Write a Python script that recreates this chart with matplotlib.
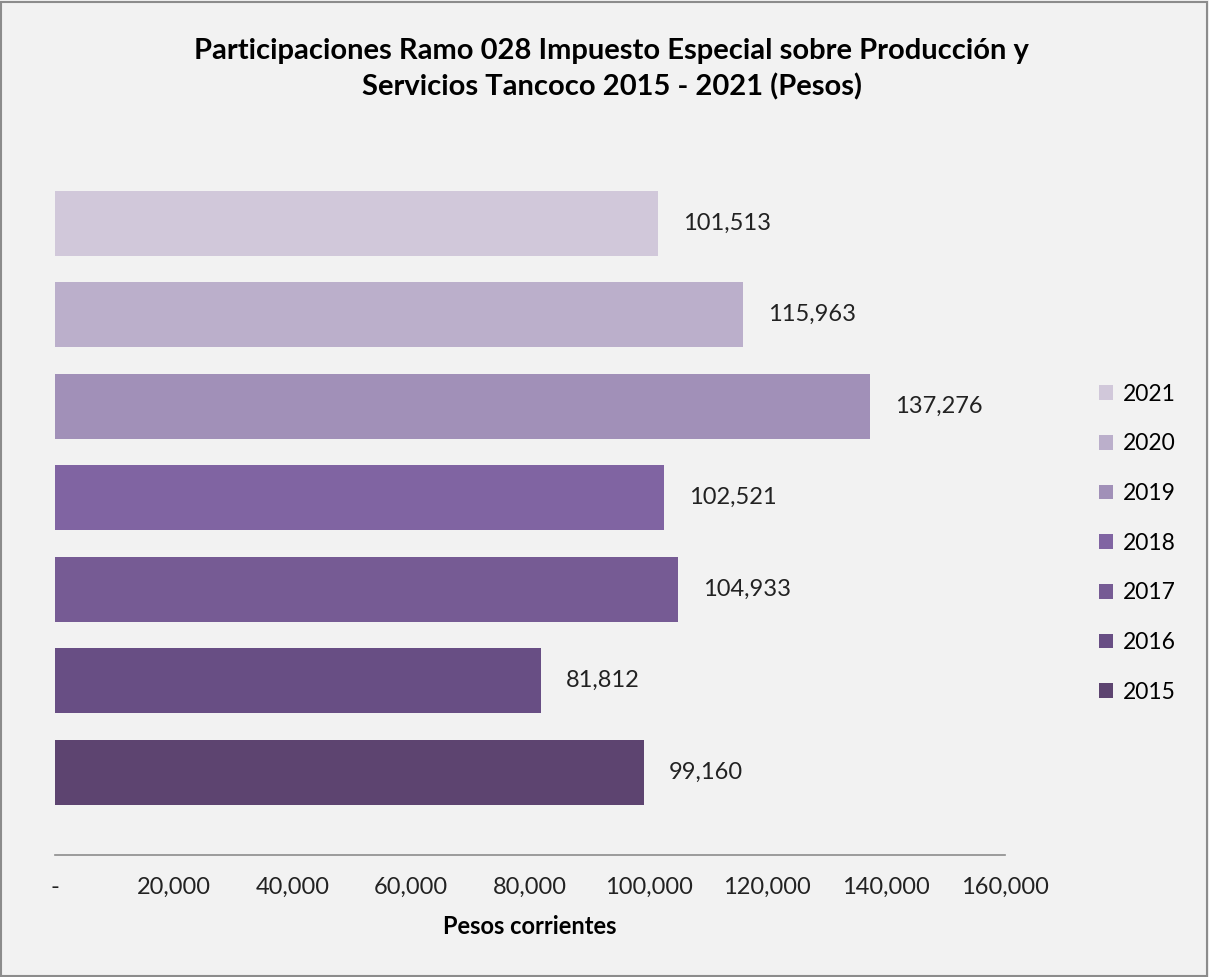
import matplotlib
matplotlib.use('Agg')
import matplotlib.pyplot as plt
from matplotlib.patches import Rectangle

years = ['2015', '2016', '2017', '2018', '2019', '2020', '2021']
values = [99160, 81812, 104933, 102521, 137276, 115963, 101513]
colors = ['#5d4470', '#684e84', '#765b94', '#8064a2', '#a190b8', '#bbafcb', '#d1c8da']
xticks = [0, 20000, 40000, 60000, 80000, 100000, 120000, 140000, 160000]
xtick_labels = ['-', '20,000', '40,000', '60,000', '80,000', '100,000', '120,000', '140,000', '160,000']

plt.rcParams['font.family'] = ['Lato', 'DejaVu Sans']

fig = plt.figure(figsize=(12.09, 9.77), dpi=100, facecolor='#f2f2f2')
ax = fig.add_axes([0.0455, 0.125, 0.7855, 0.701])
ax.set_facecolor('#f2f2f2')

bars = ax.barh(range(len(years)), values, height=0.71, color=colors)
ax.bar_label(bars, labels=[f'{v:,}' for v in values], padding=18, fontsize=17, color='#222222')

ax.set_xlim(0, 160000)
ax.set_ylim(-0.905, 6.58)
ax.set_yticks([])
ax.set_xticks(xticks)
ax.set_xticklabels(xtick_labels, fontsize=17, color='#222222')
ax.tick_params(axis='x', length=0, pad=16)
for s in ['top', 'right', 'left']:
    ax.spines[s].set_visible(False)
ax.spines['bottom'].set_color('#8c8c8c')
ax.spines['bottom'].set_linewidth(1.2)
ax.set_xlabel('Pesos corrientes', fontsize=17, fontweight='bold', labelpad=12)

handles = [bars[i] for i in range(len(years) - 1, -1, -1)]
labels = [years[i] for i in range(len(years) - 1, -1, -1)]
fig.legend(handles, labels, loc='center left', bbox_to_anchor=(0.892, 0.444),
           frameon=False, fontsize=16.5, handlelength=0.62, handleheight=0.62,
           handletextpad=0.4, labelspacing=1.25)

fig.text(0.506, 0.961, 'Participaciones Ramo 028 Impuesto Especial sobre Producción y\nServicios Tancoco 2015 - 2021 (Pesos)',
         ha='center', va='top', fontsize=21, fontweight='bold', linespacing=1.4)

fig.patches.append(Rectangle((0.001, 0.001), 0.997, 0.997, transform=fig.transFigure,
                             fill=False, edgecolor='#8c8c8c', linewidth=1.5))

fig.savefig('out.png', dpi=100, facecolor=fig.get_facecolor())
